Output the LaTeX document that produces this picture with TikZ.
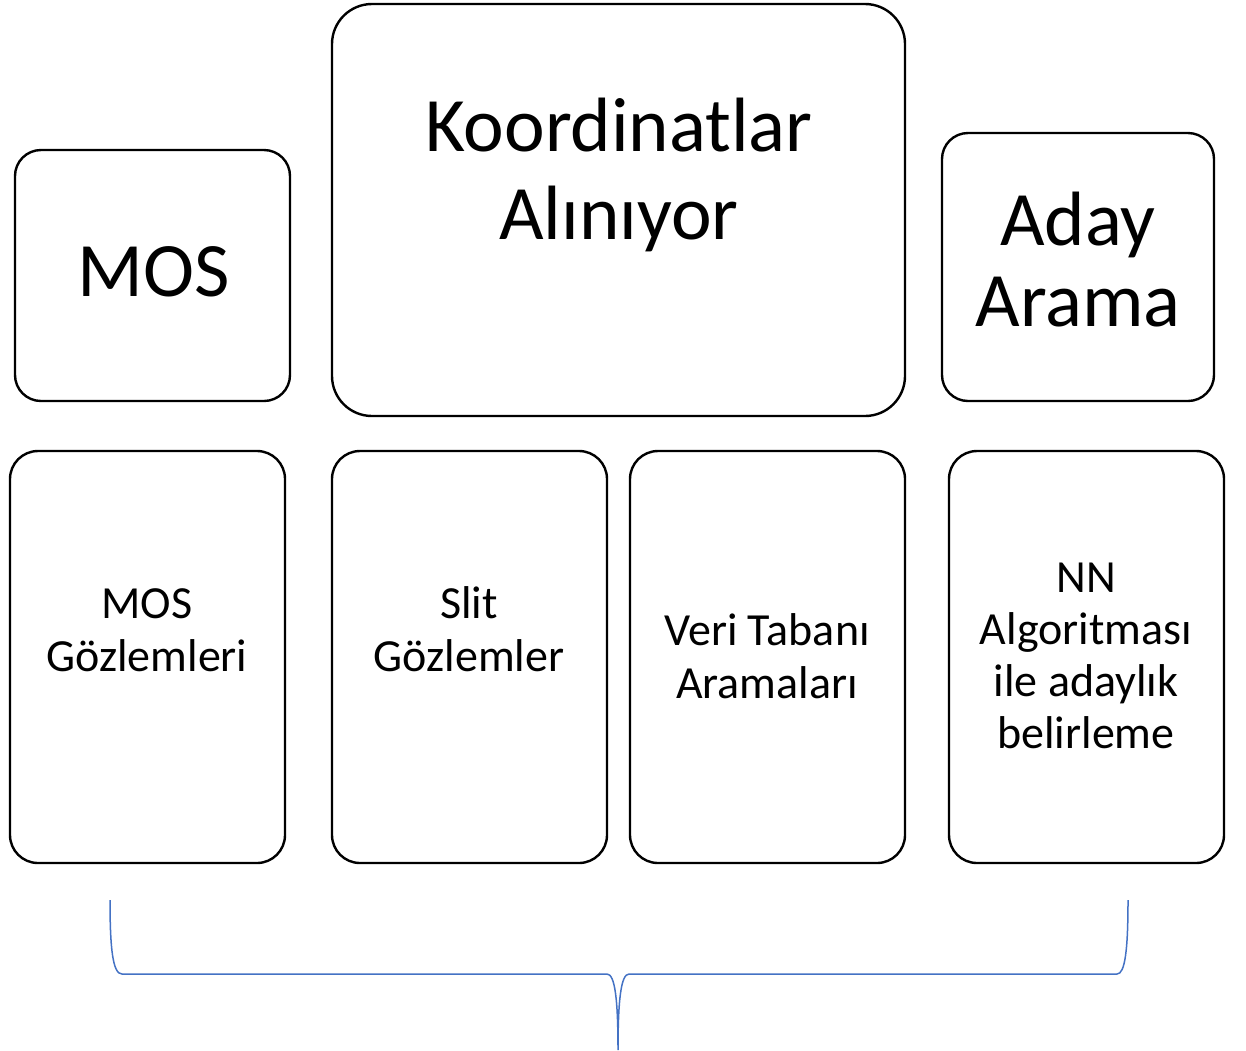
\documentclass[tikz,border=0pt]{standalone}
\usepackage{fontspec}
\setmainfont{Carlito}
\definecolor{bracecol}{RGB}{68,114,196}
\begin{document}
\begin{tikzpicture}[x=1pt,y=-1pt,
  box/.style={draw=black, line width=2.4pt, rounded corners=#1, fill=white, inner sep=0pt},
  box/.default=27pt,
  bigtxt/.style={inner sep=0pt, align=center, anchor=base, font=\fontsize{77}{88}\selectfont},
  smalltxt/.style={inner sep=0pt, align=center, anchor=base, font=\fontsize{46}{53}\selectfont},
  bracepath/.style={draw=bracecol, line width=1.5pt}]
\useasboundingbox (0,0) rectangle (1246,1050);
% top row
\node[box=26pt, minimum width=275pt, minimum height=251pt] (b1) at (152.5,275.5) {};
\node[box=40pt, minimum width=573pt, minimum height=412pt] (b2) at (618.5,210) {};
\node[box=26pt, minimum width=272pt, minimum height=268pt] (b3) at (1078,267) {};
% bottom row
\node[box=28pt, minimum width=275pt, minimum height=412pt] (c1) at (147.5,657) {};
\node[box=28pt, minimum width=275pt, minimum height=412pt] (c2) at (469.5,657) {};
\node[box=28pt, minimum width=275pt, minimum height=412pt] (c3) at (767.5,657) {};
\node[box=28pt, minimum width=275pt, minimum height=412pt] (c4) at (1086.5,657) {};
% texts (anchor = baseline of last line)
\node[bigtxt] (t1) at (154,296) {MOS};
\node[bigtxt] (t2) at (619,239) {Koordinatlar\\Alınıyor};
\node[bigtxt, font=\fontsize{77}{81}\selectfont] (t3) at (1078,326) {Aday\\Arama};
\node[smalltxt] (u1) at (147,671) {MOS\\Gözlemleri};
\node[smalltxt] (u2) at (469,671) {Slit\\Gözlemler};
\node[smalltxt] (u3) at (767,698) {Veri Tabanı\\Aramaları};
\node[smalltxt, font=\fontsize{46}{52}\selectfont] (u4) at (1086,748) {NN\\Algoritması\\ile adaylık\\belirleme};
% brace
\coordinate (bl) at (110,900);
\coordinate (br) at (1128,900);
\coordinate (tip) at (618,1050);
\draw[bracepath] (bl) .. controls (110,950) and (113,974) .. (122,974) -- (607,974)
  .. controls (615,974) and (618,1000) .. (tip)
  .. controls (618,1000) and (621,974) .. (629,974) -- (1117,974)
  .. controls (1125,974) and (1128,950) .. (br);
\end{tikzpicture}
\end{document}
